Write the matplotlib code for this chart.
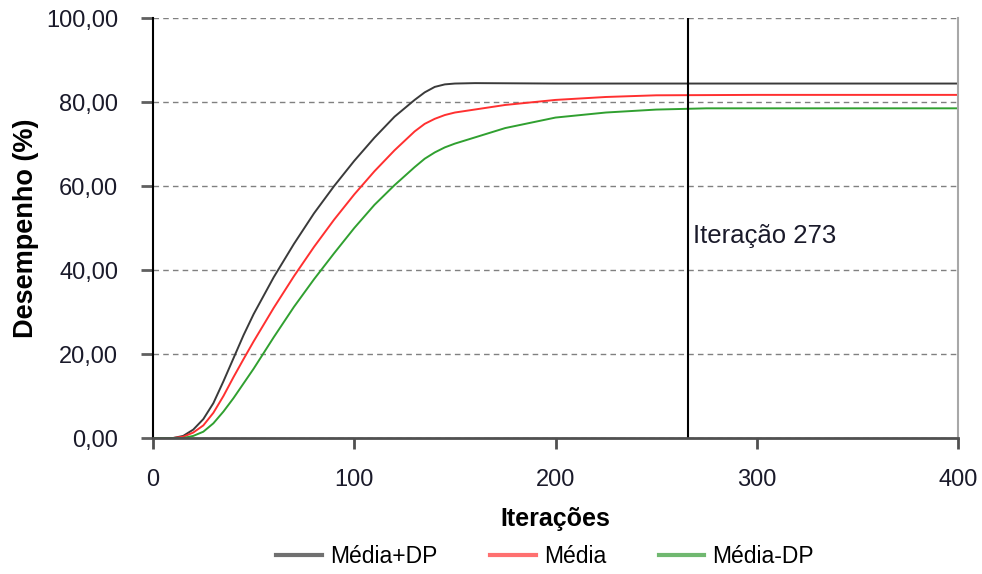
import matplotlib.pyplot as plt
from matplotlib.lines import Line2D
from matplotlib.ticker import FuncFormatter

plt.rcParams['font.family'] = ['Liberation Sans', 'DejaVu Sans']

# iteracoes x desempenho (%)
iter_mais = [0, 10, 15, 20, 25, 30, 35, 40, 45, 50, 60, 70, 80, 90, 100, 110, 120, 130, 135, 140, 145, 150, 160, 200, 300, 400]
media_mais_dp = [0, 0, 0.5, 2, 4.5, 8.3, 13.5, 19, 24.5, 29.5, 38.3, 46.2, 53.5, 60, 66, 71.5, 76.5, 80.5, 82.3, 83.6, 84.2, 84.4, 84.5, 84.4, 84.4, 84.4]

iter_media = [0, 10, 15, 20, 25, 30, 35, 40, 45, 50, 60, 70, 80, 90, 100, 110, 120, 130, 135, 140, 145, 150, 175, 200, 225, 250, 300, 400]
media = [0, 0, 0.3, 1.3, 3, 6, 10, 14.5, 18.8, 23, 31, 38.5, 45.5, 52, 58, 63.5, 68.5, 73, 74.8, 76, 76.9, 77.5, 79.3, 80.5, 81.2, 81.6, 81.7, 81.7]

iter_menos = [0, 15, 20, 25, 30, 35, 40, 45, 50, 60, 70, 80, 90, 100, 110, 120, 130, 135, 140, 145, 150, 175, 200, 225, 250, 275, 400]
media_menos_dp = [0, 0, 0.5, 1.5, 3.5, 6.3, 9.5, 13, 16.5, 24, 31.2, 37.8, 44, 50, 55.5, 60.2, 64.5, 66.5, 68, 69.2, 70.1, 73.8, 76.3, 77.5, 78.2, 78.5, 78.5]

iteracao_marcada = 266
texto_marcado = 'Iteração 273'
x_ticks = [0, 100, 200, 300, 400]
y_ticks = [0, 20, 40, 60, 80, 100]

fig = plt.figure(figsize=(9.82, 5.74), dpi=100)
ax = fig.add_axes([0.1558, 0.2369, 0.8198, 0.7317])

ax.plot(iter_mais, media_mais_dp, color='#3a3a3a', lw=1.4)
ax.plot(iter_media, media, color='#ff3030', lw=1.4)
ax.plot(iter_menos, media_menos_dp, color='#30a030', lw=1.4)

ax.axvline(iteracao_marcada, color='black', lw=1.5)
ax.text(iteracao_marcada + 2.5, 48, texto_marcado, fontsize=18.5, va='center', ha='left', color='#1a1a2a')

ax.set_xlim(0, 400)
ax.set_ylim(0, 100)
ax.set_xticks(x_ticks)
ax.set_yticks(y_ticks)
ax.yaxis.set_major_formatter(FuncFormatter(lambda v, p: f'{v:.2f}'.replace('.', ',')))
ax.grid(axis='y', color='#808080', linestyle=(0, (4, 3)), lw=1)
ax.set_axisbelow(True)

ax.spines['top'].set_visible(False)
ax.spines['right'].set_color('#a8a8a8')
ax.spines['right'].set_linewidth(1.5)
ax.spines['left'].set_color('black')
ax.spines['left'].set_linewidth(1.5)
ax.spines['bottom'].set_color('#505050')
ax.spines['bottom'].set_linewidth(2)

ax.tick_params(axis='y', direction='out', length=9, width=2, colors='#606060', labelcolor='#1a1a2a', labelsize=17, pad=16)
ax.tick_params(axis='x', direction='out', length=8, width=2, colors='#505050', labelcolor='#1a1a2a', labelsize=17, pad=14)

ax.set_xlabel('Iterações', fontsize=18, fontweight='bold', labelpad=12)
ax.set_ylabel('Desempenho (%)', fontsize=19.5, fontweight='bold', labelpad=5)

handles = [Line2D([], [], color='#707070', lw=3),
           Line2D([], [], color='#ff7070', lw=3),
           Line2D([], [], color='#70b870', lw=3)]
fig.legend(handles, ['Média+DP', 'Média', 'Média-DP'], loc='center', bbox_to_anchor=(0.555, 0.031),
           ncol=3, frameon=False, fontsize=16.5, handlelength=2.0, handletextpad=0.35, columnspacing=2.3)

fig.savefig('out.png', dpi=100)
